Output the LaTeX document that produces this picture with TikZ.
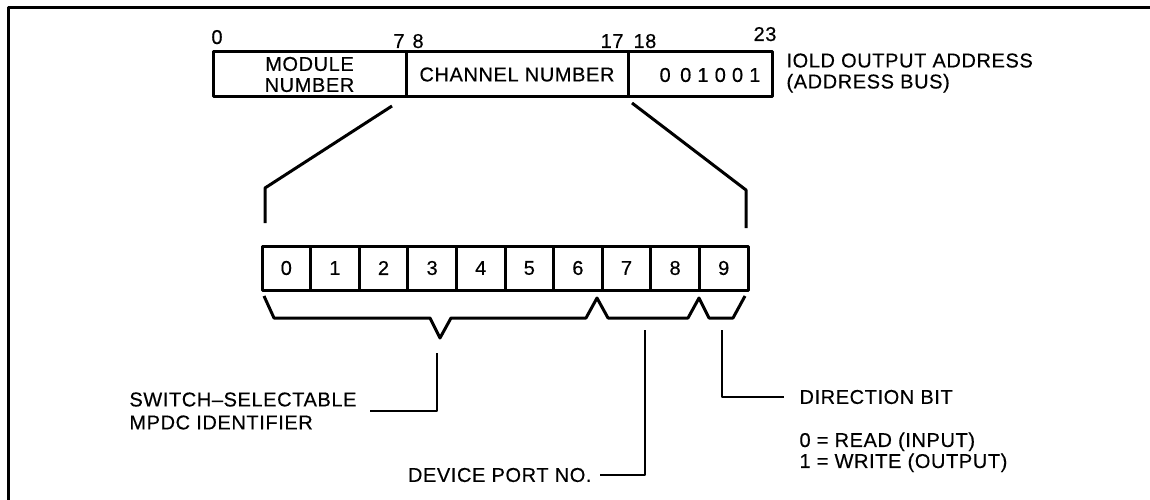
\documentclass[tikz,border=0pt]{standalone}
\usepackage{fontspec}
\setmainfont[LetterSpace=3,FakeBold=0.4]{Liberation Sans}
\usetikzlibrary{positioning}

\begin{document}
\begin{tikzpicture}[x=1pt,y=-1pt,line width=3pt,line join=round,
    every node/.style={font=\fontsize{20}{21}\selectfont,inner sep=0pt},
    field/.style={draw,line width=3pt,minimum height=45pt,align=center},
    cell/.style={draw,line width=3pt,minimum width=48.6pt,minimum height=44pt},
    lead/.style={line width=2.5pt}]
  \useasboundingbox (0,0) rectangle (1150,500);
  % frame
  \draw (8,500) -- (8,8) -- (1150,8);

  % IOLD output address
  \node[field,minimum width=193pt] (modnum) at (309.5,74.5) {MODULE\\NUMBER};
  \node[field,minimum width=222pt] (chnum) at (517,74.5) {CHANNEL NUMBER};
  \node[field,minimum width=144pt] (dirfield) at (700,74.5) {};
  \node (code) at (710,75) {0 \,0 1 0 0 1};
  \node[anchor=west,align=left] (iold) at (785,73) {IOLD OUTPUT ADDRESS\\(ADDRESS BUS)};

  \node[anchor=base] (n0) at (217,44) {0};
  \node[anchor=base east] (n7) at (406,48) {7};
  \node[anchor=base west] (n8) at (411,48) {8};
  \node[anchor=base east] (n17) at (625,48) {17};
  \node[anchor=base west] (n18) at (632,48) {18};
  \node[anchor=base] (n23) at (765,41) {23};

  % fan out
  \draw (392,106) -- (265,188) -- (265,223);
  \draw (632,103) -- (746,190) -- (746,228);

  % channel number bits
  \foreach \i in {0,...,9}
    \node[cell] (c\i) at ({286.3+48.6*\i},268) {\i};

  \draw (264,296) -- (274,318) -- (430,318) -- (440,338) -- (451,318) -- (586,318)
    -- (597,298) -- (608,318) -- (688,318) -- (699,298) -- (709,318) -- (733,318) -- (745,296);

  % labels
  \node[anchor=east,align=left] (mpdc) at (358,411) {SWITCH--SELECTABLE\\[2pt]MPDC IDENTIFIER};
  \draw[lead] (437,353) |- ([xshift=12pt]mpdc.east);

  \node[anchor=east] (port) at (593,475) {DEVICE PORT NO.};
  \draw[lead] (645,330) |- ([xshift=7pt]port.east);

  \node[anchor=west] (dirbit) at (798,397) {DIRECTION BIT};
  \draw[lead] (722,330) |- ([xshift=-14pt]dirbit.west);
  \node[anchor=north west,align=left] (rw) at (798,431) {0 = READ (INPUT)\\1 = WRITE (OUTPUT)};
\end{tikzpicture}
\end{document}
